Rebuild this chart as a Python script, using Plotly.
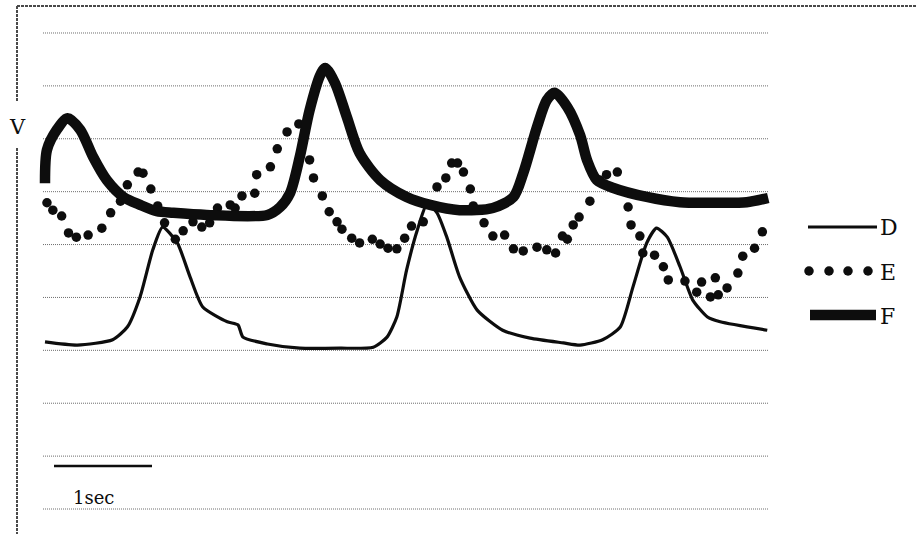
import plotly.graph_objects as go

# ---- data (time in s, potential in grid units) ----
d_time = [0.00, 0.33, 0.69, 0.84, 0.97, 1.10, 1.20, 1.35, 1.48, 1.61, 1.86, 1.97,
          2.02, 2.27, 2.60, 3.01, 3.35, 3.49, 3.59, 3.69, 3.80, 3.90, 4.00, 4.10,
          4.23, 4.41, 4.67, 4.95, 5.29, 5.46, 5.69, 5.87, 6.00, 6.14, 6.24, 6.35,
          6.48, 6.61, 6.76, 6.89, 7.37]
d_volt = [3.16, 3.10, 3.20, 3.44, 4.01, 4.90, 5.33, 5.03, 4.39, 3.82, 3.54, 3.48,
          3.25, 3.12, 3.04, 3.04, 3.06, 3.25, 3.63, 4.52, 5.28, 5.77, 5.60, 5.14,
          4.39, 3.76, 3.38, 3.23, 3.14, 3.10, 3.20, 3.44, 4.20, 5.03, 5.31, 5.14,
          4.58, 3.95, 3.63, 3.54, 3.38]

e_time = [0.02, 0.08, 0.17, 0.24, 0.32, 0.44, 0.58, 0.67, 0.77, 0.84, 0.95, 1.00,
          1.08, 1.15, 1.22, 1.33, 1.41, 1.51, 1.60, 1.68, 1.76, 1.89, 1.94, 2.01,
          2.14, 2.16, 2.30, 2.37, 2.47, 2.59, 2.70, 2.74, 2.83, 2.90, 2.98, 3.03,
          3.13, 3.21, 3.34, 3.42, 3.50, 3.59, 3.67, 3.74, 3.86, 4.00, 4.09, 4.15,
          4.21, 4.27, 4.34, 4.37, 4.48, 4.57, 4.69, 4.78, 4.88, 5.02, 5.12, 5.21,
          5.28, 5.33, 5.39, 5.45, 5.56, 5.66, 5.73, 5.84, 5.95, 5.98, 6.07, 6.10,
          6.22, 6.31, 6.36, 6.53, 6.65, 6.70, 6.79, 6.84, 6.87, 6.96, 7.07, 7.12,
          7.24, 7.32]
e_volt = [5.79, 5.65, 5.54, 5.22, 5.14, 5.18, 5.31, 5.60, 5.82, 6.13, 6.37, 6.35,
          6.05, 5.73, 5.41, 5.10, 5.26, 5.43, 5.33, 5.41, 5.69, 5.75, 5.69, 5.92,
          5.97, 6.32, 6.47, 6.81, 7.13, 7.28, 6.60, 6.26, 5.92, 5.62, 5.43, 5.29,
          5.12, 5.03, 5.10, 5.01, 4.93, 4.92, 5.12, 5.35, 5.43, 6.09, 6.26, 6.54,
          6.54, 6.37, 6.05, 5.73, 5.41, 5.16, 5.18, 4.92, 4.88, 4.95, 4.90, 4.84,
          5.16, 5.10, 5.37, 5.52, 5.82, 6.22, 6.32, 6.37, 5.71, 5.37, 5.16, 4.84,
          4.80, 4.58, 4.33, 4.31, 4.10, 4.29, 4.01, 4.37, 4.05, 4.18, 4.46, 4.78,
          4.93, 5.24]

f_time = [0.00, 0.02, 0.12, 0.23, 0.36, 0.49, 0.63, 0.80, 0.97, 1.14, 1.31, 1.65,
          2.27, 2.40, 2.50, 2.60, 2.70, 2.81, 2.86, 2.96, 3.08, 3.21, 3.42, 3.69,
          3.93, 4.23, 4.57, 4.78, 4.88, 5.02, 5.12, 5.20, 5.33, 5.46, 5.53, 5.63,
          5.80, 6.14, 6.48, 6.82, 7.16, 7.38]
f_volt = [6.16, 6.79, 7.17, 7.39, 7.17, 6.66, 6.22, 5.90, 5.75, 5.63, 5.60, 5.56,
          5.56, 5.71, 5.97, 6.66, 7.54, 8.21, 8.34, 8.05, 7.41, 6.73, 6.22, 5.90,
          5.75, 5.65, 5.69, 5.90, 6.35, 7.22, 7.73, 7.87, 7.60, 7.07, 6.60, 6.22,
          6.07, 5.90, 5.80, 5.79, 5.80, 5.88]

grid_levels = [0, 1, 2, 3, 4, 5, 6, 7, 8, 9]
series_names = ["D", "E", "F"]
scale_bar_seconds = 1.0
scale_bar_label = "1sec"
axis_label = "V"

# ---- layout geometry ----
W, H = 916, 534
X_RANGE = [-0.4592, 8.8878]
Y_RANGE = [-0.4727, 9.6237]


def px(x):
    return x / W


def py(y):
    return 1 - y / H


def t_of(xpix):
    return X_RANGE[0] + xpix / W * (X_RANGE[1] - X_RANGE[0])


def v_of(ypix):
    return Y_RANGE[1] - ypix / H * (Y_RANGE[1] - Y_RANGE[0])


INK = "#0d0d0d"
SERIF = "DejaVu Serif, Liberation Serif, serif"

fig = go.Figure()

# D: thin solid trace
fig.add_trace(go.Scatter(x=d_time, y=d_volt, mode="lines", name=series_names[0],
                         line=dict(color=INK, width=3.2, shape="spline", smoothing=0.6)))
# E: dotted trace drawn as round markers
fig.add_trace(go.Scatter(x=e_time, y=e_volt, mode="markers", name=series_names[1],
                         marker=dict(color=INK, size=9.5)))
# F: heavy trace
fig.add_trace(go.Scatter(x=f_time, y=f_volt, mode="lines", name=series_names[2],
                         line=dict(color=INK, width=10.5, shape="spline", smoothing=0.8)))

shapes = []
# finely dotted horizontal grid
grid_x0, grid_x1 = t_of(43), t_of(768)
for g in grid_levels:
    shapes.append(dict(type="line", xref="x", yref="y", x0=grid_x0, x1=grid_x1, y0=g, y1=g,
                       line=dict(color="#6e6e6e", width=1, dash="1px,1px"), layer="below"))

# frame: top edge and left edge (with gap for the axis label)
frame = dict(color="#4a4a4a", width=2, dash="3px,1px")
shapes.append(dict(type="line", xref="paper", yref="paper", x0=px(17), x1=px(916),
                   y0=py(6), y1=py(6), line=frame))
shapes.append(dict(type="line", xref="paper", yref="paper", x0=px(17), x1=px(17),
                   y0=py(6), y1=py(102), line=frame))
shapes.append(dict(type="line", xref="paper", yref="paper", x0=px(17), x1=px(17),
                   y0=py(148), y1=py(534), line=frame))

# time scale bar
bar_t0 = t_of(54)
shapes.append(dict(type="line", xref="x", yref="y", x0=bar_t0, x1=bar_t0 + scale_bar_seconds,
                   y0=v_of(466), y1=v_of(466), line=dict(color=INK, width=2.5)))

# legend key symbols
shapes.append(dict(type="line", xref="paper", yref="paper", x0=px(808), x1=px(877),
                   y0=py(227), y1=py(227), line=dict(color=INK, width=3.2)))
shapes.append(dict(type="line", xref="paper", yref="paper", x0=px(810), x1=px(876),
                   y0=py(315), y1=py(315), line=dict(color=INK, width=10.5)))

fig.add_trace(go.Scatter(x=[t_of(809), t_of(829), t_of(848), t_of(868)],
                         y=[v_of(271)] * 4, mode="markers", showlegend=False,
                         marker=dict(color=INK, size=9.5), hoverinfo="skip"))

legend_font = dict(family=SERIF, size=22, color=INK)
annotations = [
    dict(text=series_names[0], x=px(878), y=py(228), xref="paper", yref="paper",
         xanchor="left", yanchor="middle", showarrow=False, font=legend_font),
    dict(text=series_names[1], x=px(878), y=py(272), xref="paper", yref="paper",
         xanchor="left", yanchor="middle", showarrow=False, font=legend_font),
    dict(text=series_names[2], x=px(878), y=py(316), xref="paper", yref="paper",
         xanchor="left", yanchor="middle", showarrow=False, font=legend_font),
    dict(text=axis_label, x=px(17), y=py(127), xref="paper", yref="paper",
         xanchor="center", yanchor="middle", showarrow=False,
         font=dict(family=SERIF, size=21, color=INK)),
    dict(text=scale_bar_label, x=px(71), y=py(498), xref="paper", yref="paper",
         xanchor="left", yanchor="middle", showarrow=False,
         font=dict(family=SERIF, size=18, color=INK)),
]

fig.update_layout(
    width=W, height=H,
    margin=dict(l=0, r=0, t=0, b=0),
    paper_bgcolor="white", plot_bgcolor="white",
    showlegend=False,
    xaxis=dict(range=X_RANGE, visible=False, fixedrange=True),
    yaxis=dict(range=Y_RANGE, visible=False, fixedrange=True),
    shapes=shapes,
    annotations=annotations,
)

fig.write_html("out.html")
